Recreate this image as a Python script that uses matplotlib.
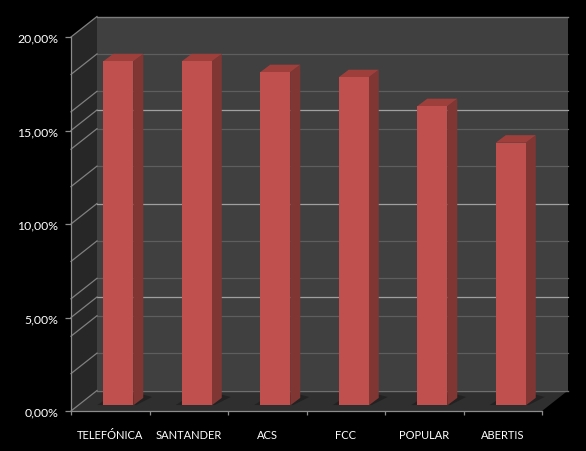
import matplotlib
matplotlib.use("Agg")
import matplotlib.pyplot as plt
from matplotlib.patches import Polygon

names = ["TELEFÓNICA", "SANTANDER", "ACS", "FCC", "POPULAR", "ABERTIS"]
values = [18.4, 18.4, 17.82, 17.55, 16.0, 14.05]
major_ticks = [0, 5, 10, 15, 20]
major_labels = ["0,00%", "5,00%", "10,00%", "15,00%", "20,00%"]
minor_ticks = [2, 4, 6, 8, 12, 14, 16, 18]

# pixel scale of the front plane, the 3d depth is given in data units
PX_X = 78.5
PX_Y = 18.7
DEPTH_X = 26 / PX_X
DEPTH_Y = 20.5 / PX_Y

fig = plt.figure(figsize=(5.86, 4.52), dpi=100, facecolor="black")
ax = fig.add_axes([0, 0, 1, 1], facecolor="black")
ax.set_xlim(-71 / PX_X, (586 - 71) / PX_X)
ax.set_ylim((412 - 452) / PX_Y, 412 / PX_Y)

n = len(names)


def poly(points, color, z=1):
    ax.add_patch(Polygon(points, closed=True, facecolor=color, edgecolor="none", zorder=z))


# walls and floor
poly([(DEPTH_X, DEPTH_Y), (n + DEPTH_X, DEPTH_Y), (n + DEPTH_X, 20 + DEPTH_Y), (DEPTH_X, 20 + DEPTH_Y)], "#404040")
poly([(0, 0), (DEPTH_X, DEPTH_Y), (DEPTH_X, 20 + DEPTH_Y), (0, 20)], "#272727")
poly([(0, 0), (n, 0), (n + DEPTH_X, DEPTH_Y), (DEPTH_X, DEPTH_Y)], "#2f2f2f")

# gridlines on back and left wall
for tick, color, lw in [(t, "#5e5e5e", 0.9) for t in minor_ticks] + [(t, "#a0a0a0", 0.9) for t in major_ticks[1:-1]]:
    ax.plot([DEPTH_X, n + DEPTH_X], [tick + DEPTH_Y] * 2, color=color, lw=lw, zorder=2)
    ax.plot([0, DEPTH_X], [tick, tick + DEPTH_Y], color="#808080", lw=0.9, zorder=2)

ax.plot([DEPTH_X, n + DEPTH_X], [20 + DEPTH_Y] * 2, color="#7c7c7c", lw=1.0, zorder=2)
ax.plot([0, DEPTH_X], [20, 20 + DEPTH_Y], color="#808080", lw=0.9, zorder=2)
ax.plot([DEPTH_X, n + DEPTH_X], [DEPTH_Y] * 2, color="#6e6e6e", lw=1.0, zorder=2)
ax.plot([0, DEPTH_X], [0, DEPTH_Y], color="#808080", lw=0.9, zorder=2)

# bars
bar_w = 30 / PX_X
for i, val in enumerate(values):
    x0 = i + 0.5 - bar_w / 2 + 8 / PX_X
    x1 = x0 + bar_w
    y0 = 5.6 / PX_Y
    y1 = y0 + val
    ox = 10 / PX_X
    oy = 7.5 / PX_Y
    # shadow on the floor
    poly([(x0 - 6 / PX_X, y0 + 0.02), (x1 + 3 / PX_X, y0 + 0.02), (x1 + ox + 9 / PX_X, y0 + oy + 0.05),
          (x1 + ox - 2 / PX_X, y0 + oy + 0.2), (x0 + 2 / PX_X, y0 + 0.3)], "#222222", 3)
    poly([(x1, y0), (x1 + ox, y0 + oy), (x1 + ox, y1 + oy), (x1, y1)], "#803633", 4)
    poly([(x0, y1), (x1, y1), (x1 + ox, y1 + oy), (x0 + ox, y1 + oy)], "#9e3f3c", 4)
    poly([(x0, y0), (x1, y0), (x1, y1), (x0, y1)], "#c0504d", 5)

# axes
for side in ["top", "right"]:
    ax.spines[side].set_visible(False)
ax.spines["left"].set_position(("data", 0))
ax.spines["left"].set_bounds(0, 20)
ax.spines["bottom"].set_position(("data", 0))
ax.spines["bottom"].set_bounds(0, n)
for side in ["left", "bottom"]:
    ax.spines[side].set_color("#8c8c8c")
    ax.spines[side].set_linewidth(0.9)
    ax.spines[side].set_zorder(6)

ax.set_yticks(major_ticks)
ax.set_yticklabels(major_labels, fontfamily="Lato", fontsize=8.8, color="white")
ax.set_xticks(range(n + 1), minor=False)
ax.set_xticklabels([""] * (n + 1))
ax.set_xticks([i + 0.5 for i in range(n)], minor=True)
ax.set_xticklabels(names, minor=True, fontfamily="Lato", fontsize=8, color="white")
ax.tick_params(axis="y", length=4, width=0.9, color="#8c8c8c", pad=5)
ax.tick_params(axis="x", which="major", length=3, width=0.9, color="#8c8c8c")
ax.tick_params(axis="x", which="minor", length=0, pad=13)

fig.savefig("out.png", dpi=100, facecolor="black")
